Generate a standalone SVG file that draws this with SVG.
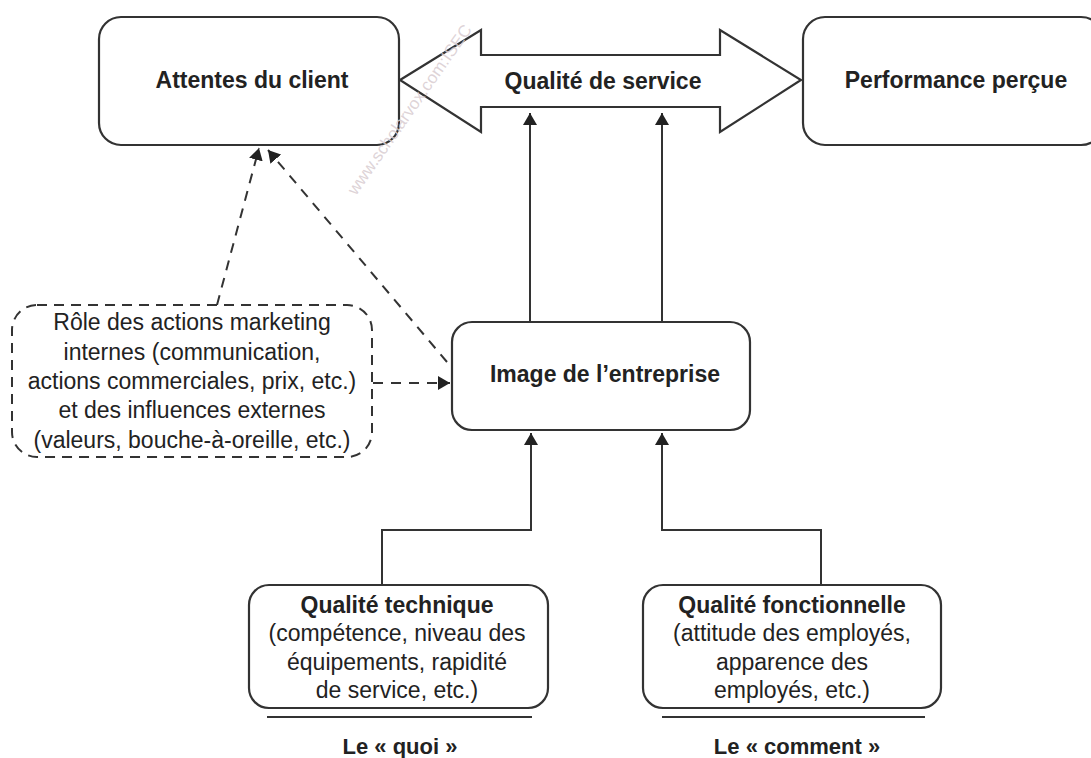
<svg xmlns="http://www.w3.org/2000/svg" width="1091" height="758" viewBox="0 0 1091 758">
<style>
.box{fill:#fff;stroke:#333;stroke-width:2.2}
.dbox{fill:#fff;stroke:#333;stroke-width:2;stroke-dasharray:10 7}
.ln{fill:none;stroke:#333;stroke-width:2}
.dl{fill:none;stroke:#333;stroke-width:2;stroke-dasharray:10 8}
.t{font-family:"Liberation Sans",Arial,sans-serif;fill:#222;text-anchor:middle}
.b{font-weight:bold;font-size:23px}
.r{font-size:23px}
.wm{font-family:"Liberation Sans",Arial,sans-serif;font-size:17px;fill:#d8ccd0;fill-opacity:0.85}
</style>
<defs>
<marker id="ah" viewBox="0 0 12 14" refX="12" refY="7" markerWidth="12" markerHeight="14" markerUnits="userSpaceOnUse" orient="auto">
<path d="M0,0 L12,7 L0,14 z" fill="#222"/>
</marker>
</defs>
<g id="connectors">
<path class="ln" d="M530,322 V113" marker-end="url(#ah)"/>
<path class="ln" d="M662,322 V113" marker-end="url(#ah)"/>
<path class="ln" d="M382,585 V530 H531 V433" marker-end="url(#ah)"/>
<path class="ln" d="M821,585 V530 H662 V433" marker-end="url(#ah)"/>
<path class="dl" d="M217,305 L259,148" marker-end="url(#ah)"/>
<path class="dl" d="M447,362 L268,150" marker-end="url(#ah)"/>
<path class="dl" d="M373,383 L450,383" marker-end="url(#ah)"/>
</g>
<g id="attentes">
<rect class="box" x="99" y="17" width="300" height="128" rx="22"/>
<text class="t b" x="252" y="88">Attentes du client</text>
</g>
<g id="qualite-service">
<polygon class="box" points="400,80 481,30 481,55 720,55 720,30 801,80 720,132 720,107 481,107 481,132"/>
<text class="t b" x="603" y="89">Qualité de service</text>
</g>
<g id="performance">
<rect class="box" x="803" y="17" width="300" height="128" rx="22"/>
<text class="t b" x="956" y="88">Performance perçue</text>
</g>
<g id="image">
<rect class="box" x="452" y="322" width="298" height="108" rx="20"/>
<text class="t b" x="605" y="382">Image de l’entreprise</text>
</g>
<g id="role">
<rect class="dbox" x="12" y="305" width="360" height="152" rx="25"/>
<text class="t r" x="192" y="330">Rôle des actions marketing</text>
<text class="t r" x="192" y="360">internes (communication,</text>
<text class="t r" x="192" y="389">actions commerciales, prix, etc.)</text>
<text class="t r" x="192" y="418">et des influences externes</text>
<text class="t r" x="192" y="448">(valeurs, bouche-à-oreille, etc.)</text>
</g>
<g id="technique">
<rect class="box" x="249" y="585" width="299" height="123" rx="20"/>
<text class="t b" x="397" y="613">Qualité technique</text>
<text class="t r" x="397" y="641">(compétence, niveau des</text>
<text class="t r" x="397" y="670">équipements, rapidité</text>
<text class="t r" x="397" y="698">de service, etc.)</text>
<path class="ln" d="M267,717 H532"/>
<text class="t b" x="400" y="754" style="font-size:22px">Le « quoi »</text>
</g>
<g id="fonctionnelle">
<rect class="box" x="643" y="585" width="298" height="123" rx="20"/>
<text class="t b" x="792" y="613">Qualité fonctionnelle</text>
<text class="t r" x="792" y="641">(attitude des employés,</text>
<text class="t r" x="792" y="670">apparence des</text>
<text class="t r" x="792" y="698">employés, etc.)</text>
<path class="ln" d="M662,717 H925"/>
<text class="t b" x="797" y="754" style="font-size:22px">Le « comment »</text>
</g>
<text class="wm" transform="translate(356,196) rotate(-55)">www.scholarvox.com:ISEC</text>
</svg>
